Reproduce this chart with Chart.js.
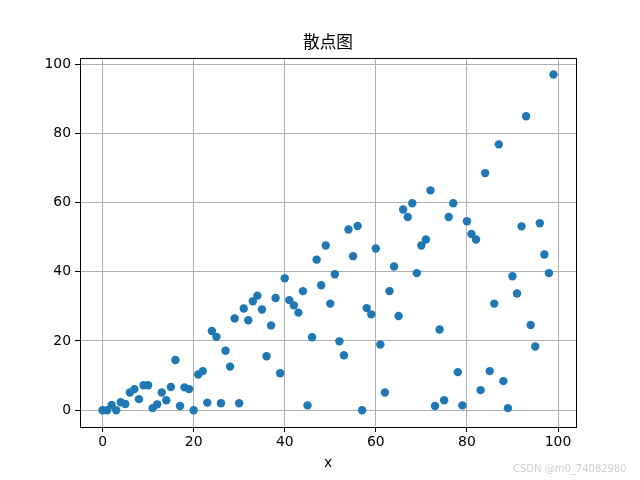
<!DOCTYPE html>
<html>
<head>
<meta charset="utf-8">
<script src="https://cdn.jsdelivr.net/npm/chart.js@4/dist/chart.umd.min.js"></script>
<style>
  html, body { margin: 0; padding: 0; background: #fff; }
  #wrap { position: relative; width: 640px; height: 480px; }
  #mark { position: absolute; left: 513px; top: 463px; font: 10px "DejaVu Sans", sans-serif; color: #d0d0d0; white-space: nowrap; }
</style>
</head>
<body>
<div id="wrap">
<canvas id="c" width="640" height="480"></canvas>
<div id="mark">CSDN @m0_74082980</div>
</div>
<script>
const chartTitle = "散点图";
const xLabel = "x";
const xValues = [0,1,2,3,4,5,6,7,8,9,10,11,12,13,14,15,16,17,18,19,20,21,22,23,24,25,26,27,28,29,30,31,32,33,34,35,36,37,38,39,40,41,42,43,44,45,46,47,48,49,50,51,52,53,54,55,56,57,58,59,60,61,62,63,64,65,66,67,68,69,70,71,72,73,74,75,76,77,78,79,80,81,82,83,84,85,86,87,88,89,90,91,92,93,94,95,96,97,98,99];
const yValues = [0,0,1.5,0,2.3,1.8,5.1,6.1,3.2,7.2,7.2,0.6,1.7,5.1,2.9,6.7,14.5,1.2,6.6,6.1,0,10.3,11.3,2.2,22.9,21.2,2.0,17.2,12.6,26.5,2.0,29.4,26.0,31.5,33.1,29.1,15.6,24.5,32.4,10.7,38.1,31.8,30.3,28.2,34.4,1.4,21.1,43.5,36.1,47.6,30.8,39.3,19.9,15.9,52.2,44.5,53.2,0,29.5,27.7,46.7,19.0,5.1,34.4,41.5,27.2,58.0,55.8,59.8,39.6,47.6,49.3,63.5,1.2,23.3,2.9,55.8,59.8,11.0,1.4,54.6,50.9,49.3,5.8,68.5,11.3,30.8,76.8,8.4,0.6,38.7,33.7,53.1,84.9,24.6,18.4,54.0,45.0,39.6,97.0];
const xTicks = [0,20,40,60,80,100];
const yTicks = [0,20,40,60,80,100];

const points = xValues.map((x, i) => ({x: x, y: yValues[i]}));

const frame = {
  id: 'frame',
  afterDatasetsDraw(chart) {
    const a = chart.chartArea, ctx = chart.ctx;
    ctx.save();
    ctx.strokeStyle = '#000';
    ctx.lineWidth = 1;
    ctx.strokeRect(Math.round(a.left) + 0.5, Math.round(a.top) + 0.5, Math.round(a.right - a.left), Math.round(a.bottom - a.top));
    ctx.fillStyle = '#000';
    ctx.font = "16.7px 'DejaVu Sans', 'Noto Sans CJK SC', sans-serif";
    ctx.textAlign = 'center';
    ctx.textBaseline = 'middle';
    ctx.fillText(chartTitle, (a.left + a.right) / 2, 44);
    ctx.restore();
  }
};

const tickFont = { family: "'DejaVu Sans', sans-serif", size: 13.9 };

new Chart(document.getElementById('c'), {
  type: 'scatter',
  data: { datasets: [{ data: points, backgroundColor: '#1f77b4', borderWidth: 0, pointRadius: 4.2, pointHoverRadius: 4.2 }] },
  options: {
    responsive: false,
    animation: false,
    devicePixelRatio: 1,
    layout: { padding: { left: 0, right: 64, top: 58, bottom: 0 } },
    plugins: {
      legend: { display: false },
      tooltip: { enabled: false },
      title: { display: false }
    },
    scales: {
      x: {
        type: 'linear', min: -4.95, max: 103.95,
        afterBuildTicks: s => { s.ticks = xTicks.map(v => ({value: v})); },
        afterFit: s => { s.height = 53; },
        grid: { color: '#b0b0b0', lineWidth: 1, tickColor: '#000', tickLength: 5, drawTicks: true },
        border: { display: false },
        ticks: { color: '#000', font: tickFont, padding: 2, maxRotation: 0, callback: v => String(v) },
        title: { display: true, text: xLabel, color: '#000', font: tickFont, padding: { top: 0, bottom: 8 } }
      },
      y: {
        type: 'linear', min: -4.845, max: 101.745,
        afterBuildTicks: s => { s.ticks = yTicks.map(v => ({value: v})); },
        afterFit: s => { s.width = 80; },
        grid: { color: '#b0b0b0', lineWidth: 1, tickColor: '#000', tickLength: 5, drawTicks: true },
        border: { display: false },
        ticks: { color: '#000', font: tickFont, padding: 4, callback: v => String(v) }
      }
    }
  },
  plugins: [frame]
});
</script>
</body>
</html>
